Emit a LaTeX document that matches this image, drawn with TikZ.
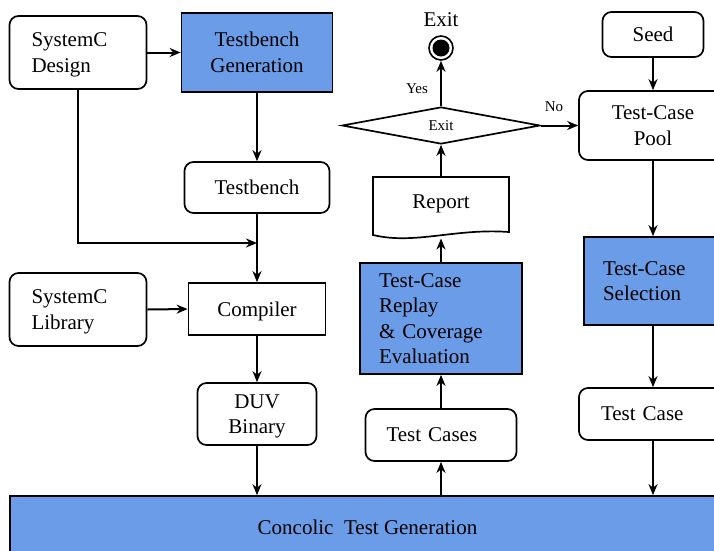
\documentclass[tikz,border=0pt]{standalone}
\usepackage{fontspec}
\setmainfont{Liberation Serif}
\usetikzlibrary{arrows.meta,shapes.geometric}
\definecolor{procblue}{RGB}{107,156,232}
\begin{document}
\begin{tikzpicture}[x=1pt,y=-1pt,
  base/.style={draw, line width=1.7pt, inner sep=0pt, font=\fontsize{21}{25.5}\selectfont},
  rbox/.style={base, rounded corners=9pt, fill=white},
  pbox/.style={base, fill=procblue},
  sbox/.style={base, fill=white},
  small/.style={font=\fontsize{15}{18}\selectfont},
  arr/.style={line width=2pt, -{Stealth[length=11pt,width=9pt,inset=3.5pt]}}
]
\useasboundingbox (0,0) rectangle (714,550);

% left column
\node[rbox, minimum height=73pt, inner xsep=22pt, text width=93pt, text depth=25.5pt, align=left] (sysd) at (78,52.5) {SystemC\\Design};
\node[pbox, minimum width=151pt, minimum height=79pt, align=center] (tbgen) at (257,52.5) {Testbench\\Generation};
\node[rbox, minimum width=145pt, minimum height=51pt] (tb) at (257,187.5) {Testbench};
\node[rbox, minimum height=73pt, inner xsep=22pt, text width=93pt, text depth=25.5pt, align=left] (sysl) at (78,309.5) {SystemC\\Library};
\node[sbox, minimum width=137pt, minimum height=52pt, text depth=0pt] (comp) at (257,309) {Compiler};
\node[rbox, minimum width=119pt, minimum height=62pt, text depth=0pt, align=center] (duv) at (257,414) {DUV\\Binary};

% middle column
\node[rbox, minimum height=52pt, inner xsep=21pt, text width=109pt, align=left] (tcs) at (441,435) {Test Cases};
\node[pbox, minimum height=111pt, inner xsep=19pt, text width=124pt, align=left] (replay) at (441,318.5) {Test-Case\\Replay\\\& Coverage\\Evaluation};
\node[base, draw=none, minimum width=136pt, minimum height=53pt] (report) at (441,203.5) {Report};
\draw[line width=1.7pt] (373,235) -- (373,177) -- (509,177) -- (509,232)
  .. controls (455,228) and (415,245) .. cycle;
\coordinate (repbot) at (441,238.5);
\node[draw, diamond, line width=1.7pt, minimum width=198pt, minimum height=37pt, inner sep=0pt, small] (dia) at (441,125.5) {Exit};
\node[draw, circle, line width=1.6pt, minimum size=24pt, inner sep=0pt, fill=white] (exitc) at (441,48) {};
\fill (exitc.center) circle (8.5);
\node[font=\fontsize{21}{24}\selectfont] (exitlbl) at (441,20) {Exit};
\node[small] (yes) at (417,89) {Yes};
\node[small] (no) at (554,107) {No};

% right column
\node[rbox, minimum width=101pt, minimum height=45pt] (seed) at (653,34.5) {Seed};
\node[rbox, minimum width=148pt, minimum height=69pt, align=center] (pool) at (653,125.5) {Test-Case\\Pool};
\node[pbox, minimum height=88pt, inner xsep=19pt, text width=104pt, align=left] (sel) at (655,281) {Test-Case\\Selection};
\node[rbox, minimum height=52pt, inner xsep=22pt, text width=104pt, align=left] (tcase) at (653,414) {Test Case};

% bottom bar
\node[pbox, minimum width=715pt, minimum height=62pt] (bar) at (367.5,527) {Concolic\ \ Test Generation};

% connectors
\coordinate (junc) at (257,243);
\draw[arr] (sysd.east) -- (tbgen.west);
\draw[arr] (tbgen.south) -- (tb.north);
\draw[arr] (tb.south) -- (comp.north);
\draw[arr] (sysd.south) |- (junc);
\draw[arr] (sysl.east) -- (comp.west);
\draw[arr] (comp.south) -- (duv.north);
\draw[arr] (duv.south) -- (duv.south |- bar.north);
\draw[arr] (bar.north -| tcs.south) -- (tcs.south);
\draw[arr] (tcs.north) -- (tcs.north |- replay.south);
\draw[arr] (replay.north) -- (repbot);
\draw[arr] (report.north) -- (dia.south);
\draw[arr] (dia.north) -- (exitc.south);
\draw[arr] (dia.east) -- (pool.west);
\draw[arr] (seed.south) -- (pool.north);
\draw[arr] (pool.south) -- (pool.south |- sel.north);
\draw[arr] (sel.south -| pool.south) -- (pool.south |- tcase.north);
\draw[arr] (tcase.south) -- (tcase.south |- bar.north);
\end{tikzpicture}
\end{document}
